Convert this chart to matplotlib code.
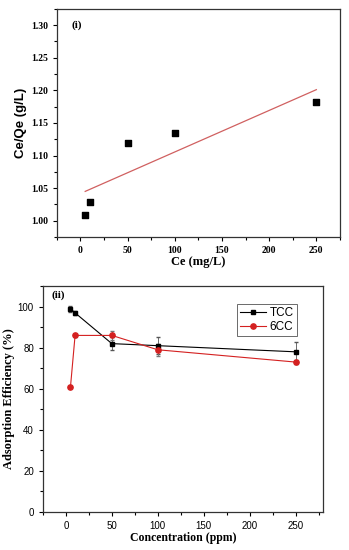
import matplotlib
matplotlib.use("Agg")
import matplotlib.pyplot as plt
from matplotlib.ticker import MultipleLocator
from matplotlib.lines import Line2D

# Panel (i) data
ce = [5, 10, 50, 100, 250]
ce_qe = [1.009, 1.029, 1.119, 1.134, 1.182]
fit_x = [5, 250]
fit_y = [1.045, 1.201]

# Panel (ii) data
conc = [5, 10, 50, 100, 250]
tcc = [99, 97, 82, 81, 78]
tcc_err = [1.5, 0.8, 3.0, 4.0, 5.0]
cc6 = [61, 86, 86, 79, 73]
cc6_err = [0.5, 0.8, 2.0, 3.0, 1.0]

serif = ["Liberation Serif", "DejaVu Serif"]
sans = ["Liberation Sans", "DejaVu Sans"]

fig = plt.figure(figsize=(3.49, 5.5), dpi=100)

# ---- Panel (i)
ax1 = fig.add_axes([0.163, 0.569, 0.811, 0.415])
ax1.scatter(ce, ce_qe, marker="s", s=14, color="black", zorder=3)
ax1.plot(fit_x, fit_y, color="#d06060", lw=0.9)
ax1.set_xlim(-25, 275)
ax1.set_ylim(0.975, 1.325)
ax1.xaxis.set_major_locator(MultipleLocator(50))
ax1.xaxis.set_minor_locator(MultipleLocator(25))
ax1.yaxis.set_minor_locator(MultipleLocator(0.025))
ax1.set_yticks([1.00, 1.05, 1.10, 1.15, 1.20, 1.25, 1.30])
ax1.set_yticklabels(["1.00", "1.05", "1.10", "1.15", "1.20", "1.25", "1.30"])
ax1.tick_params(which="both", direction="out", top=False, right=False, width=0.8)
ax1.tick_params(which="major", length=3)
ax1.tick_params(which="minor", length=2)
for lab in ax1.get_xticklabels() + ax1.get_yticklabels():
    lab.set_family(serif)
    lab.set_fontweight("bold")
    lab.set_fontsize(7)
ax1.set_xlabel("Ce (mg/L)", family=serif, fontweight="bold", fontsize=9, labelpad=1)
ax1.set_ylabel("Ce/Qe (g/L)", family=sans, fontweight="bold", fontsize=9.5, labelpad=3)
ax1.text(0.05, 0.93, "(i)", transform=ax1.transAxes, family=serif,
         fontweight="bold", fontsize=8, va="center")
for sp in ax1.spines.values():
    sp.set_linewidth(0.9)
    sp.set_color("#333333")

# ---- Panel (ii)
ax2 = fig.add_axes([0.123, 0.0696, 0.803, 0.41])
ax2.errorbar(conc, tcc, yerr=tcc_err, color="black", marker="s", ms=3.5,
             lw=0.8, elinewidth=0.6, capsize=1.5, ecolor="#555555", zorder=3)
ax2.errorbar(conc, cc6, yerr=cc6_err, color="#d42020", marker="o", ms=3.8,
             lw=0.8, elinewidth=0.6, capsize=1.5, ecolor="#777777", zorder=3)
ax2.set_xlim(-25, 280)
ax2.set_ylim(0, 110)
ax2.xaxis.set_major_locator(MultipleLocator(50))
ax2.xaxis.set_minor_locator(MultipleLocator(25))
ax2.yaxis.set_major_locator(MultipleLocator(20))
ax2.yaxis.set_minor_locator(MultipleLocator(10))
ax2.tick_params(which="both", direction="out", top=False, right=False, width=0.8)
ax2.tick_params(which="major", length=3)
ax2.tick_params(which="minor", length=2)
for lab in ax2.get_xticklabels() + ax2.get_yticklabels():
    lab.set_family(sans)
    lab.set_fontsize(7)
ax2.set_xlabel("Concentration (ppm)", family=serif, fontweight="bold", fontsize=8.5, labelpad=1)
ax2.set_ylabel("Adsorption Efficiency (%)", family=serif, fontweight="bold", fontsize=9, labelpad=2)
ax2.text(0.03, 0.96, "(ii)", transform=ax2.transAxes, family=serif,
         fontweight="bold", fontsize=8, va="center")
handles = [Line2D([], [], color="black", marker="s", ms=3.5, lw=0.8),
           Line2D([], [], color="#d42020", marker="o", ms=3.8, lw=0.8)]
leg = ax2.legend(handles, ["TCC", "6CC"], loc="upper right",
                 bbox_to_anchor=(0.905, 0.92),
                 prop={"family": sans, "size": 8.5}, frameon=True, fancybox=False,
                 edgecolor="#444444", handlelength=2.2, borderpad=0.25,
                 labelspacing=0.15, handletextpad=0.3, borderaxespad=0)
leg.get_frame().set_linewidth(0.7)
for sp in ax2.spines.values():
    sp.set_linewidth(0.9)
    sp.set_color("#333333")

fig.savefig("out.png", dpi=100)
